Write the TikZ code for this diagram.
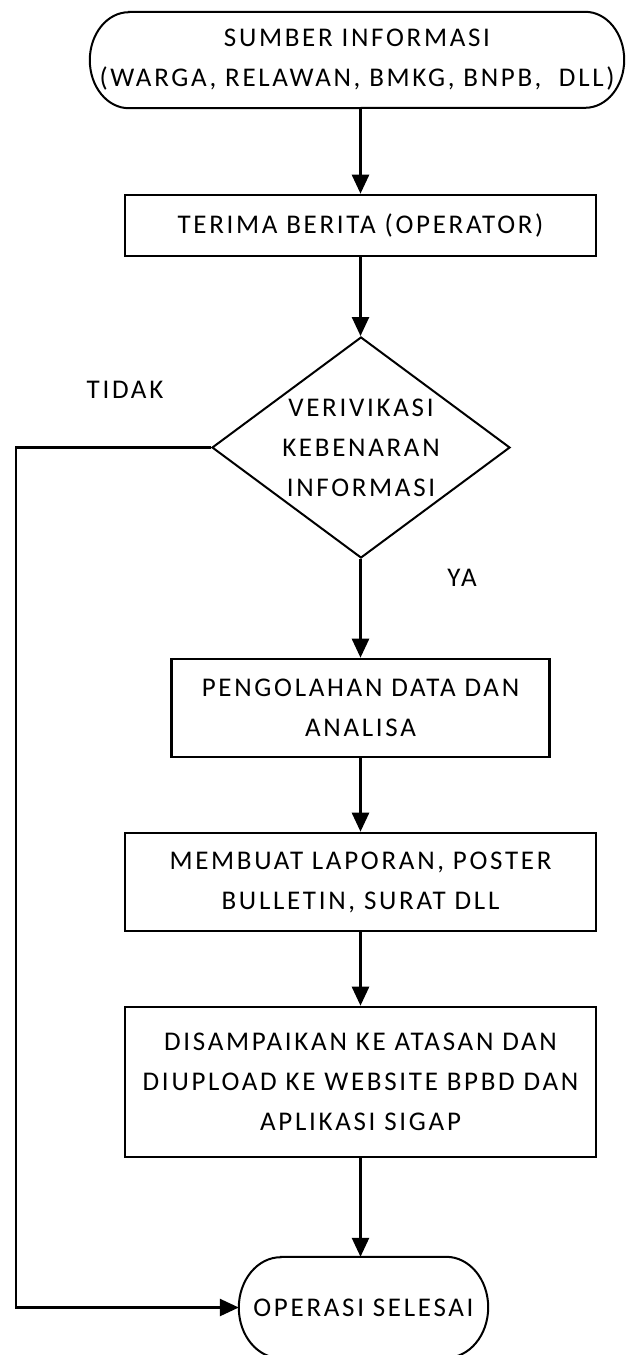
\documentclass[tikz,border=0pt]{standalone}
\usepackage{fontspec}
\setmainfont{Carlito}[LetterSpace=10]
\usetikzlibrary{arrows.meta,shapes.geometric}
\begin{document}
\begin{tikzpicture}[x=1pt,y=-1pt,
  txt/.style={font=\fontsize{27}{40}\selectfont, align=center, inner sep=0pt},
  term/.style={txt, rectangle},
  termline/.style={draw, line width=2pt},
  procbox/.style={txt, draw, line width=2.6pt, rectangle},
  decision/.style={draw, line width=2pt, diamond, inner sep=0pt},
  flow/.style={line width=2.6pt, -{Triangle[width=17pt,length=19pt]}}
]
\useasboundingbox (0,0) rectangle (625,1355);

\node[term, minimum width=534pt, minimum height=96pt] (src) at (357,60)
  {SUMBER INFORMASI\\(WARGA, RELAWAN, BMKG, BNPB,\ \ DLL)};
\draw[termline] ([xshift=39pt]src.north west) -- ([xshift=-39pt]src.north east)
  arc[start angle=90, end angle=-90, x radius=39pt, y radius=48pt]
  -- ([xshift=39pt]src.south west)
  arc[start angle=270, end angle=90, x radius=39pt, y radius=48pt] -- cycle;

\node[procbox, minimum width=471pt, minimum height=61pt] (b1) at (360.5,225.5)
  {TERIMA BERITA (OPERATOR)};
\node[decision, minimum width=298pt, minimum height=221pt] (d) at (361,447.5) {};
\node[txt] (dtxt) at (d.center) {VERIVIKASI\\KEBENARAN\\INFORMASI};
\node[procbox, minimum width=378pt, minimum height=98pt] (b2) at (360.5,708)
  {PENGOLAHAN DATA DAN\\ANALISA};
\node[procbox, minimum width=471pt, minimum height=98pt] (b3) at (360.5,882)
  {MEMBUAT LAPORAN, POSTER\\BULLETIN, SURAT DLL};
\node[procbox, minimum width=471pt, minimum height=150pt] (b4) at (360.5,1082)
  {DISAMPAIKAN KE ATASAN DAN\\DIUPLOAD KE WEBSITE BPBD DAN\\APLIKASI SIGAP};

\node[term, minimum width=249pt, minimum height=101pt] (fin) at (363.5,1307.5)
  {OPERASI SELESAI};
\draw[termline] ([xshift=42pt]fin.north west) -- ([xshift=-42pt]fin.north east)
  arc[start angle=90, end angle=-90, x radius=42pt, y radius=50.5pt]
  -- ([xshift=42pt]fin.south west)
  arc[start angle=270, end angle=90, x radius=42pt, y radius=50.5pt] -- cycle;

\node[txt] (tidak) at (125,390) {TIDAK};
\node[txt] (ya) at (462,578) {YA};

\coordinate (lcorner) at (16,447.5);

\draw[flow] (src.south -| b1.north) -- (b1.north);
\draw[flow] (b1.south) -- (b1.south |- d.north);
\draw[flow] (b2.north |- d.south) -- (b2.north);
\draw[flow] (b2.south) -- (b3.north);
\draw[flow] (b3.south) -- (b4.north);
\draw[flow] (b4.south) -- (b4.south |- fin.north);
\draw[flow] (d.west) -- (lcorner) |- (fin.west);
\end{tikzpicture}
\end{document}
